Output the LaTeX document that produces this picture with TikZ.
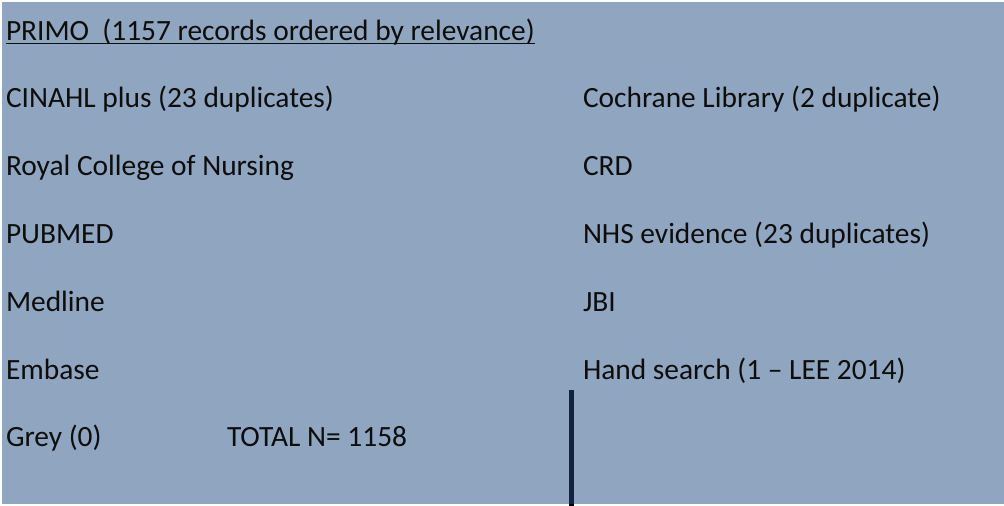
\documentclass[tikz,border=0pt]{standalone}
\usepackage{fontspec}
\setmainfont{Carlito}
\definecolor{panel}{HTML}{8FA5C0}
\definecolor{navy}{HTML}{10233F}
\definecolor{ink}{HTML}{0D0D0D}
\begin{document}
\begin{tikzpicture}[x=1pt,y=-1pt,
  lbl/.style={anchor=base west,inner sep=0pt,outer sep=0pt,text=ink,font=\fontsize{29.4}{29.4}\selectfont}]
\useasboundingbox (0,0) rectangle (1004,506);
\fill[white] (0,0) rectangle (1004,506);
\fill[panel] (2,2) rectangle (1004,504);
\node[lbl] (primo) at (6,40) {PRIMO\ \ (1157 records ordered by relevance)};
\draw[ink,line width=1.8pt] ([yshift=-3.5pt]primo.base west) -- ([yshift=-3.5pt]primo.base east);
\node[lbl] (cinahl) at (6,107.8) {CINAHL plus (23 duplicates)};
\node[lbl] (rcn) at (6,175.6) {Royal College of Nursing};
\node[lbl] (pubmed) at (6,243.4) {PUBMED};
\node[lbl] (medline) at (6,311.2) {Medline};
\node[lbl] (embase) at (6,379) {Embase};
\node[lbl] (grey) at (6,446.8) {Grey (0)};
\node[lbl] (total) at (227,446.8) {TOTAL N= 1158};
\node[lbl] (cochrane) at (583,107.8) {Cochrane Library (2 duplicate)};
\node[lbl] (crd) at (583,175.6) {CRD};
\node[lbl] (nhs) at (583,243.4) {NHS evidence (23 duplicates)};
\node[lbl] (jbi) at (583,311.2) {JBI};
\node[lbl] (hand) at (583,379) {Hand search (1 -- LEE 2014)};
\coordinate (ltop) at (571.5,390);
\coordinate (lbot) at (571.5,504);
\coordinate (lend) at (571.5,506);
\draw[navy,line width=5pt] (ltop) -- (lbot);
\draw[black,line width=5pt] (lbot) -- (lend);
\end{tikzpicture}
\end{document}
